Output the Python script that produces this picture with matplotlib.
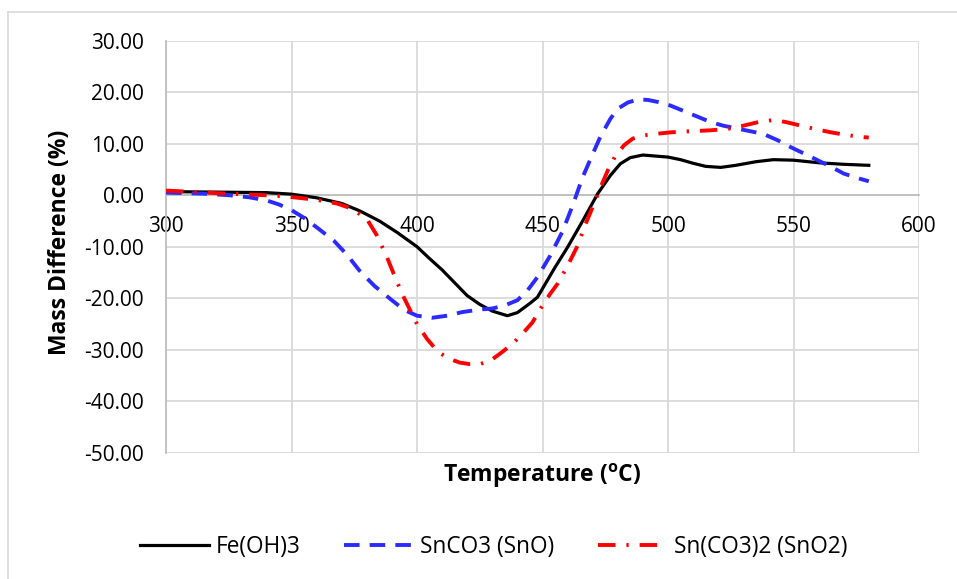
import matplotlib
matplotlib.use("Agg")
import matplotlib.pyplot as plt
from matplotlib.lines import Line2D

plt.rcParams['font.family'] = ['Open Sans', 'DejaVu Sans']
plt.rcParams['mathtext.default'] = 'regular'

# ---- data ----
fe_x = [300, 320, 340, 350, 360, 370, 377, 385, 392, 400, 405, 410, 415, 420, 425,
        430, 436, 440, 445, 448, 455, 460, 466, 472, 477, 481, 485, 490, 495, 500,
        505, 510, 515, 521, 527, 535, 542, 550, 560, 570, 580]
fe_y = [0.7, 0.6, 0.5, 0.2, -0.5, -1.6, -3.0, -5.0, -7.2, -10.0, -12.3, -14.5, -17.0,
        -19.5, -21.2, -22.5, -23.4, -22.8, -21.0, -19.8, -14.0, -10.1, -5.0, 0.3, 3.8,
        6.1, 7.3, 7.8, 7.6, 7.4, 6.9, 6.2, 5.6, 5.4, 5.8, 6.5, 6.9, 6.8, 6.3, 6.0, 5.8]

sn_x = [300, 315, 325, 333, 340, 345, 350, 355, 361, 367, 372, 377, 383, 390, 395,
        400, 406, 412, 418, 425, 430, 435, 440, 444, 448, 453, 458, 462, 466, 470,
        473, 477, 480, 484, 488, 492, 496, 501, 506, 512, 517, 522, 528, 533, 538,
        544, 549, 555, 560, 565, 570, 575, 580]
sn_y = [0.5, 0.3, 0.0, -0.4, -1.0, -1.8, -2.9, -4.4, -6.6, -8.9, -11.5, -14.6, -17.6,
        -20.4, -22.3, -23.4, -23.8, -23.4, -22.7, -22.2, -22.0, -21.4, -20.4, -18.5,
        -15.9, -11.8, -7.0, -2.0, 3.5, 8.0, 11.3, 14.8, 16.8, 18.0, 18.6, 18.5, 18.1,
        17.4, 16.4, 15.2, 14.2, 13.5, 12.9, 12.4, 11.9, 10.6, 9.3, 7.9, 6.7, 5.5, 4.2,
        3.4, 2.7]

sn2_x = [300, 320, 335, 347, 360, 368, 374, 380, 384, 388, 392, 395, 400, 404, 408,
         412, 417, 421, 425, 429, 433, 438, 442, 446, 450, 453, 456, 460, 464, 467,
         470.5, 473, 476, 479, 482.5, 486, 490, 495, 501, 508, 517, 524, 530, 536,
         542, 547, 553, 559, 565, 571, 577, 580]
sn2_y = [0.9, 0.4, 0.1, -0.2, -0.9, -1.6, -2.6, -4.6, -7.8, -12.0, -16.8, -20.1, -25.0,
         -27.9, -30.2, -31.6, -32.5, -32.8, -32.8, -32.2, -30.8, -28.9, -26.9, -24.7,
         -21.4, -19.2, -17.2, -13.7, -9.8, -5.8, -1.7, 1.4, 4.8, 7.6, 9.7, 11.0, 11.6,
         11.9, 12.2, 12.4, 12.6, 12.9, 13.5, 14.2, 14.6, 14.2, 13.5, 12.8, 12.2, 11.7,
         11.3, 11.2]

labels = ["Fe(OH)3", "SnCO3 (SnO)", "Sn(CO3)2 (SnO2)"]
x_ticks = [300, 350, 400, 450, 500, 550, 600]
y_ticks = [30, 20, 10, 0, -10, -20, -30, -40, -50]

W, H = 957, 579
fig = plt.figure(figsize=(W / 100, H / 100), dpi=100)
L, R, T, B = 166, 919, 40.7, 452.7
ax = fig.add_axes([L / W, 1 - B / H, (R - L) / W, (B - T) / H])

grid_c = '#d9d9d9'
ax.plot(fe_x, fe_y, color='black', lw=2.3, label=labels[0], zorder=3)
ax.plot(sn_x, sn_y, color='#2b2bff', lw=2.8, dashes=(4, 2.6), label=labels[1], zorder=3)
ax.plot(sn2_x, sn2_y, color='#ff0000', lw=2.8, dashes=(4.5, 2.8, 0.6, 2.8),
        label=labels[2], zorder=3)

ax.set_xlim(300, 600)
ax.set_ylim(-50, 30)
ax.set_xticks(x_ticks)
ax.set_yticks(y_ticks)
ax.set_yticklabels([f"{v:.2f}" for v in y_ticks])
ax.grid(True, color=grid_c, lw=1.3)
ax.set_axisbelow(True)

for s in ['top', 'right']:
    ax.spines[s].set_visible(False)
ax.spines['bottom'].set_position(('data', 0))
ax.spines['bottom'].set_color('#bfbfbf')
ax.spines['left'].set_color('#bfbfbf')
ax.spines['bottom'].set_linewidth(1.3)
ax.spines['left'].set_linewidth(1.3)
ax.tick_params(axis='both', length=0, labelsize=15, colors='black')
ax.tick_params(axis='x', pad=15)
ax.tick_params(axis='y', pad=16)

fig.text(60 / W, 1 - 242 / H, "Mass Difference (%)", rotation=90, ha='center',
         va='center', fontsize=16.5, fontweight='bold')
fig.text(542.5 / W, 1 - 476 / H, r"Temperature ($^{o}$C)", ha='center', va='center',
         fontsize=16.5, fontweight='bold')

handles = [Line2D([], [], color='black', lw=2.3),
           Line2D([], [], color='#2b2bff', lw=2.8, dashes=(4, 2.6)),
           Line2D([], [], color='#ff0000', lw=2.8, dashes=(4.5, 2.8, 0.6, 2.8))]
fig.legend(handles, labels, loc='center', bbox_to_anchor=(493.5 / W, 1 - 547 / H),
           ncol=3, frameon=False, fontsize=16.3, handlelength=3.05, handletextpad=0.3,
           columnspacing=1.92)

# chart-area border
fig.add_artist(Line2D([8 / W, 1], [1 - 12 / H, 1 - 12 / H], color=grid_c, lw=1.2,
                      transform=fig.transFigure))
fig.add_artist(Line2D([8 / W, 8 / W], [1 - 12 / H, 0], color=grid_c, lw=1.2,
                      transform=fig.transFigure))

fig.savefig("out.png", dpi=100)
